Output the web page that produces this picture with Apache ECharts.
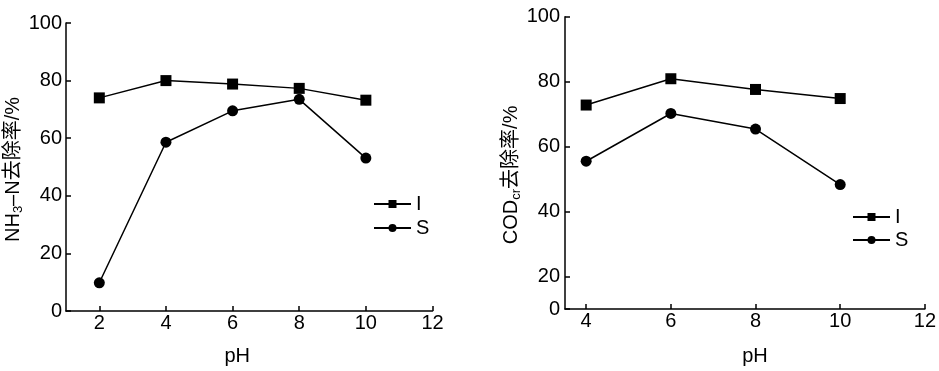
<!DOCTYPE html>
<html>
<head>
<meta charset="utf-8">
<script src="https://cdn.jsdelivr.net/npm/echarts@6/dist/echarts.min.js"></script>
<style>
html,body{margin:0;padding:0;background:#fff;}
#c{width:939px;height:371px;}
</style>
</head>
<body>
<div id="c"></div>
<script>
// ---- data ----
const phLeft = [2, 4, 6, 8, 10];
const nh3I = [74.0, 80.0, 78.8, 77.3, 73.2];
const nh3S = [9.8, 58.6, 69.5, 73.5, 53.1];

const phRight = [4, 6, 8, 10];
const codI = [72.8, 80.9, 77.6, 74.8];
const codS = [55.5, 70.2, 65.4, 48.3];

const leftXTicks = [2, 4, 6, 8, 10, 12];
const rightXTicks = [4, 6, 8, 10, 12];
const leftYTicks = [0, 20, 40, 60, 80, 100];
const rightYTicks = [10, 20, 40, 60, 80, 100];
const rightYTickLabels = ['0', '20', '40', '60', '80', '100'];

const seriesNames = ['I', 'S'];

// ---- chart ----
const FONT = '"Liberation Sans", "Noto Sans CJK SC", sans-serif';
const FS = 20;
const zip = (xs, ys) => xs.map((x, i) => [x, ys[i]]);

const axisCommon = {
  axisLine: { lineStyle: { color: '#000', width: 1.5 } },
  axisTick: { inside: true, length: 5, lineStyle: { color: '#000', width: 1.5 } },
  splitLine: { show: false },
  axisLabel: { color: '#000', fontSize: FS, fontFamily: FONT },
  nameTextStyle: { color: '#000', fontSize: FS, fontFamily: FONT }
};

function mkSeries(name, data, xi, symbol) {
  return {
    name: name, type: 'line', xAxisIndex: xi, yAxisIndex: xi,
    data: data, symbol: symbol, symbolSize: 11,
    lineStyle: { color: '#000', width: 1.5 },
    itemStyle: { color: '#000' },
    emphasis: { disabled: true },
    animation: false
  };
}

const subRich = {
  sub: { fontSize: 13, fontFamily: FONT, color: '#000', verticalAlign: 'bottom', padding: [9, 0, 0, 0] },
  n: { fontSize: FS, fontFamily: FONT, color: '#000' }
};

const option = {
  backgroundColor: '#fff',
  animation: false,
  textStyle: { fontFamily: FONT, color: '#000' },
  grid: [
    { left: 66, top: 23, width: 366.5, height: 297.7 },
    { left: 565, top: 16.7, width: 363.8, height: 295.6 }
  ],
  legend: [
    {
      data: seriesNames, orient: 'vertical', left: 368, top: 187,
      itemWidth: 37, itemHeight: 10, itemGap: 0,
      textStyle: { fontSize: FS, fontFamily: FONT, color: '#000', lineHeight: 24 },
      selectedMode: false
    },
    {
      data: seriesNames, orient: 'vertical', left: 847, top: 200.5,
      itemWidth: 37, itemHeight: 10, itemGap: 0,
      textStyle: { fontSize: FS, fontFamily: FONT, color: '#000', lineHeight: 23 },
      selectedMode: false
    }
  ],
  xAxis: [
    Object.assign({}, axisCommon, {
      type: 'value', gridIndex: 0, min: 1, max: 12,
      axisTick: Object.assign({}, axisCommon.axisTick, { customValues: leftXTicks }),
      axisLabel: Object.assign({}, axisCommon.axisLabel, { customValues: leftXTicks, margin: 2 }),
      name: 'pH', nameLocation: 'middle', nameGap: 45,
      nameTextStyle: Object.assign({}, axisCommon.nameTextStyle, { verticalAlign: 'middle', padding: [0, 24, 0, 0] })
    }),
    Object.assign({}, axisCommon, {
      type: 'value', gridIndex: 1, min: 3.5, max: 12,
      axisTick: Object.assign({}, axisCommon.axisTick, { customValues: rightXTicks }),
      axisLabel: Object.assign({}, axisCommon.axisLabel, { customValues: rightXTicks, margin: 2 }),
      name: 'pH', nameLocation: 'middle', nameGap: 47,
      nameTextStyle: Object.assign({}, axisCommon.nameTextStyle, { verticalAlign: 'middle', padding: [0, 0, 0, 20] })
    })
  ],
  yAxis: [
    Object.assign({}, axisCommon, {
      type: 'value', gridIndex: 0, min: 0, max: 100,
      axisTick: Object.assign({}, axisCommon.axisTick, { customValues: leftYTicks }),
      axisLabel: Object.assign({}, axisCommon.axisLabel, { customValues: leftYTicks, margin: 4 }),
      name: '{n|NH}{sub|3}{n|–N去除率/%}', nameLocation: 'middle', nameGap: 43,
      nameTextStyle: Object.assign({}, axisCommon.nameTextStyle, { rich: subRich, verticalAlign: 'middle', padding: [0, 5, 0, 0] })
    }),
    Object.assign({}, axisCommon, {
      type: 'value', gridIndex: 1, min: 10, max: 100,
      axisTick: Object.assign({}, axisCommon.axisTick, { customValues: rightYTicks }),
      axisLabel: Object.assign({}, axisCommon.axisLabel, {
        customValues: rightYTicks, margin: 5,
        formatter: function (v) { const i = rightYTicks.indexOf(v); return i >= 0 ? rightYTickLabels[i] : ''; }
      }),
      name: '{n|COD}{sub|cr}{n|去除率/%}', nameLocation: 'middle', nameGap: 51,
      nameTextStyle: Object.assign({}, axisCommon.nameTextStyle, { rich: subRich, verticalAlign: 'middle', padding: [0, 24, 0, 0] })
    })
  ],
  series: [
    mkSeries(seriesNames[0], zip(phLeft, nh3I), 0, 'rect'),
    mkSeries(seriesNames[1], zip(phLeft, nh3S), 0, 'circle'),
    mkSeries(seriesNames[0], zip(phRight, codI), 1, 'rect'),
    mkSeries(seriesNames[1], zip(phRight, codS), 1, 'circle')
  ]
};

const chart = echarts.init(document.getElementById('c'), null, { renderer: 'canvas' });
chart.setOption(option);
</script>
</body>
</html>
